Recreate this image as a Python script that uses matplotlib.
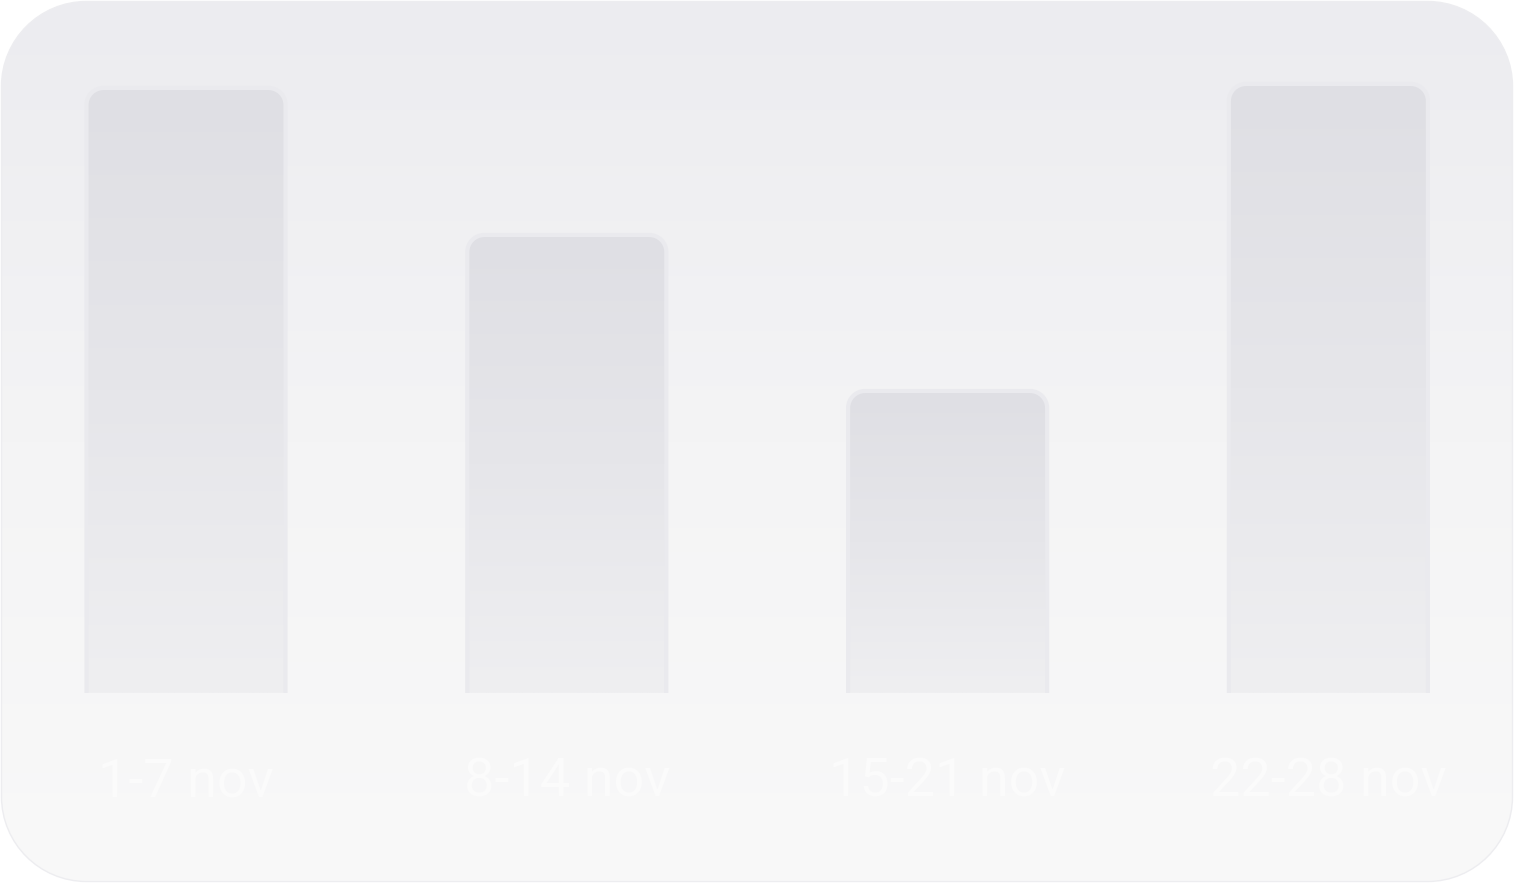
import numpy as np
import matplotlib.pyplot as plt
from matplotlib.patches import PathPatch
from matplotlib.path import Path
from matplotlib.colors import LinearSegmentedColormap

# ------------------------------
# Data
# ------------------------------
weeks = ["1-7 nov", "8-14 nov", "15-21 nov", "22-28 nov"]
values = [605, 458, 302, 609]

plt.rcParams["font.family"] = ["Roboto", "DejaVu Sans"]

W, H = 1514, 883
K = 0.5523  # cubic bezier circle constant


def round_rect(x0, y0, w, h, rx, ry, bottom_round=True, closed=True):
    """Rectangle path with circular-looking corners (cubic arcs)."""
    x1, y1 = x0 + w, y0 + h
    brx, bry = (rx, ry) if bottom_round else (0, 0)
    verts = [(x0 + brx, y0)]
    codes = [Path.MOVETO]
    if not closed:
        verts = [(x0, y0)]
    # left side going up
    if closed:
        verts += [(x1 - brx, y0)]
        codes += [Path.LINETO]
        if bottom_round:
            verts += [(x1 - brx + K * brx, y0), (x1, y0 + bry - K * bry), (x1, y0 + bry)]
            codes += [Path.CURVE4] * 3
        verts += [(x1, y1 - ry)]
        codes += [Path.LINETO]
        verts += [(x1, y1 - ry + K * ry), (x1 - rx + K * rx, y1), (x1 - rx, y1)]
        codes += [Path.CURVE4] * 3
        verts += [(x0 + rx, y1)]
        codes += [Path.LINETO]
        verts += [(x0 + rx - K * rx, y1), (x0, y1 - ry + K * ry), (x0, y1 - ry)]
        codes += [Path.CURVE4] * 3
        verts += [(x0, y0 + bry)]
        codes += [Path.LINETO]
        if bottom_round:
            verts += [(x0, y0 + bry - K * bry), (x0 + brx - K * brx, y0), (x0 + brx, y0)]
            codes += [Path.CURVE4] * 3
        verts += [verts[0]]
        codes += [Path.CLOSEPOLY]
    else:
        # open outline: left side, top, right side
        verts += [(x0, y1 - ry),
                  (x0, y1 - ry + K * ry), (x0 + rx - K * rx, y1), (x0 + rx, y1),
                  (x1 - rx, y1),
                  (x1 - rx + K * rx, y1), (x1, y1 - ry + K * ry), (x1, y1 - ry),
                  (x1, y0)]
        codes += [Path.LINETO, Path.CURVE4, Path.CURVE4, Path.CURVE4, Path.LINETO,
                  Path.CURVE4, Path.CURVE4, Path.CURVE4, Path.LINETO]
    return Path(verts, codes)


fig = plt.figure(figsize=(W / 100, H / 100), dpi=100)
fig.patch.set_facecolor("white")

# ------------------------------
# Card background (rounded, vertical gradient)
# ------------------------------
bg = fig.add_axes([0, 0, 1, 1])
bg.set_xlim(0, W)
bg.set_ylim(0, H)
bg.axis("off")

card_cmap = LinearSegmentedColormap.from_list("card", ["#F9F9F9", "#F4F4F5", "#ECECF0"])
grad = np.linspace(0, 1, 256).reshape(-1, 1)
img = bg.imshow(grad, cmap=card_cmap, extent=(0, W, 0, H), aspect="auto",
                origin="lower", zorder=0)
card = PathPatch(round_rect(1.5, 1.5, W - 3, H - 3, 85, 85), facecolor="none",
                 edgecolor="#EDEDF0", linewidth=1.0, zorder=1)
bg.add_patch(card)
img.set_clip_path(card)

# ------------------------------
# Bars
# ------------------------------
ax = fig.add_axes([0, 0, 1, 1])
ax.patch.set_alpha(0)
ax.axis("off")
step = 380.8
xlim = (-186 / step, (W - 186) / step)
ylim = (-190, 693)

x = np.arange(len(weeks))
bars = ax.bar(x, values, width=199 / step, color="none")

bar_cmap = LinearSegmentedColormap.from_list("bar", ["#DFDFE4", "#E6E6EA", "#EFEFF1"])
rx, ry = 17 / step, 17

for b in bars:
    x0, w, h = b.get_x(), b.get_width(), b.get_height()
    # soft outline on top and sides only
    edge = PathPatch(round_rect(x0, 0, w, h, rx, ry, bottom_round=False, closed=False),
                     facecolor="none", edgecolor="#EAEAEE", linewidth=3.0, zorder=3)
    ax.add_patch(edge)
    im = ax.imshow(grad, cmap=bar_cmap, extent=(x0, x0 + w, 0, h), aspect="auto",
                   origin="upper", zorder=2)
    clip = PathPatch(round_rect(x0, 0, w, h, rx, ry, bottom_round=False),
                     facecolor="none", edgecolor="none")
    ax.add_patch(clip)
    im.set_clip_path(clip)

ax.set_xlim(*xlim)
ax.set_ylim(*ylim)

# labels under bars
for i, lab in enumerate(weeks):
    ax.text(x[i], -89, lab, ha="center", va="center", fontsize=39, color="#FBFBFB")

plt.savefig("out.png", dpi=100)
